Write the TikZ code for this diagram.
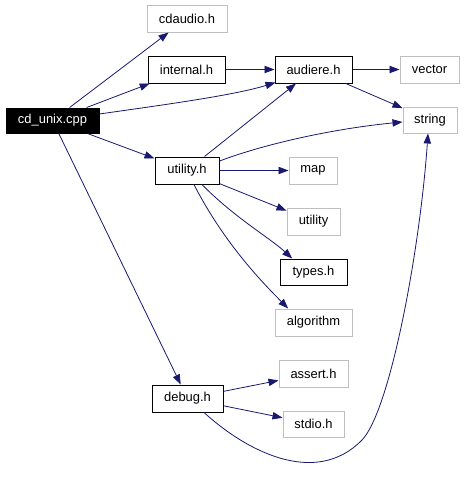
\documentclass[tikz,border=0pt]{standalone}
\usepackage{fontspec}
\setmainfont{Liberation Sans}
\usetikzlibrary{arrows.meta}
\definecolor{edgecol}{HTML}{191970}
\definecolor{graybord}{HTML}{BFBFBF}
\tikzset{
  box/.style={draw=black,line width=0.75pt,fill=white,inner sep=0pt,minimum height=20.25pt,font=\fontsize{9.7}{11}\selectfont},
  extbox/.style={box,draw=graybord},
  mainbox/.style={box,fill=black,text=white},
  edge/.style={draw=edgecol,line width=0.6pt,-{Triangle[length=7.5pt,width=5.5pt]}}
}
\begin{document}
\begin{tikzpicture}[x=0.75pt,y=-0.75pt]
\useasboundingbox (0,0) rectangle (464,493);
\node[mainbox,minimum width=69.75pt,minimum height=18.75pt] (cd) at (52.5,120.5) {cd\_unix.cpp};
\node[extbox,minimum width=60pt] (cdaudio) at (187,18.5) {cdaudio.h};
\node[box,minimum width=57.75pt] (internal) at (186.5,69.5) {internal.h};
\node[box,minimum width=57.75pt] (audiere) at (313.5,69.5) {audiere.h};
\node[extbox,minimum width=44.25pt] (vector) at (429.5,69.5) {vector};
\node[extbox,minimum width=40.5pt,minimum height=19.5pt] (string) at (430,120) {string};
\node[box,minimum width=48pt] (uh) at (187,170.5) {utility.h};
\node[extbox,minimum width=36pt] (map) at (313,170.5) {map};
\node[extbox,minimum width=39.75pt] (utility) at (313.5,221.5) {utility};
\node[box,minimum width=50.25pt,minimum height=19.5pt] (types) at (313.5,272) {types.h};
\node[extbox,minimum width=57.75pt] (algorithm) at (313.5,322.5) {algorithm};
\node[box,minimum width=53.25pt] (debug) at (187.5,398.5) {debug.h};
\node[extbox,minimum width=51.75pt] (assert) at (313.5,373.5) {assert.h};
\node[extbox,minimum width=45.75pt,minimum height=19.5pt] (stdio) at (313.5,424) {stdio.h};

\draw[edge] (cd) -- (cdaudio);
\draw[edge] (cd) -- (internal);
\draw[edge] ([yshift=4.9pt]cd.east) .. controls (170,104) and (235,95) .. ([xshift=0.75pt,yshift=0.75pt]audiere.south west);
\draw[edge] (cd) -- (uh);
\draw[edge] (cd) -- (debug);
\draw[edge] (internal) -- (audiere);
\draw[edge] (audiere) -- (vector);
\draw[edge] (audiere) -- (string);
\draw[edge] (uh) -- (audiere);
\draw[edge] ([yshift=7.1pt]uh.east) .. controls (270,142) and (340,128) .. ([yshift=-1.5pt]string.west);
\draw[edge] (uh) -- (map);
\draw[edge] (uh) -- (utility);
\draw[edge] ([xshift=11.2pt]uh.south) .. controls (235,218) and (270,238) .. ([xshift=-16pt]types.north);
\draw[edge] ([xshift=5.2pt]uh.south) .. controls (225,245) and (265,285) .. ([xshift=-19pt]algorithm.north);
\draw[edge] (debug) -- (assert);
\draw[edge] (debug) -- (stdio);
\draw[edge] ([xshift=12.4pt]debug.south) .. controls (245,450) and (315,488) .. (362,440)
  .. controls (390,411) and (420,250) .. ([xshift=-1.5pt]string.south);
\end{tikzpicture}
\end{document}
